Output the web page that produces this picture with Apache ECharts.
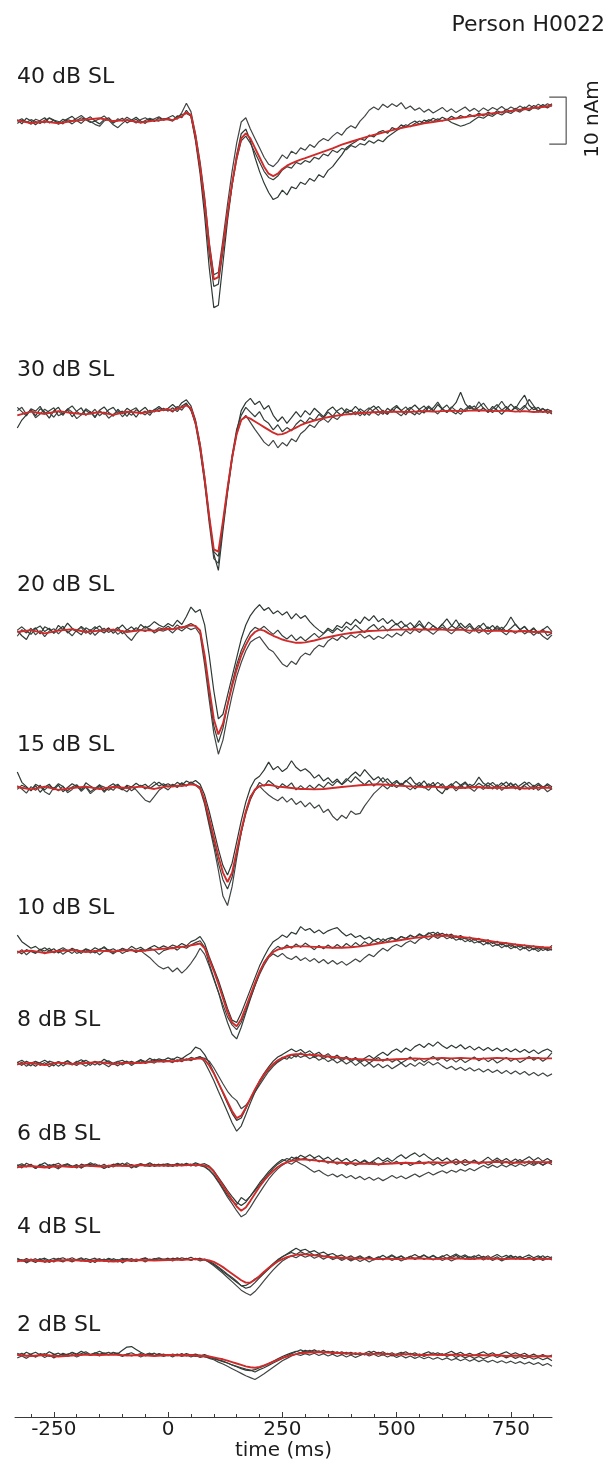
<!DOCTYPE html>
<html><head><meta charset="utf-8">
<script src="https://cdn.jsdelivr.net/npm/echarts@6/dist/echarts.min.js"></script>
<style>html,body{margin:0;padding:0;background:#fff}#c{width:608px;height:1466px}</style>
</head><body><div id="c"></div>
<script>
// ---------- DATA (time in ms, source strength in nAm relative to each trace's baseline) ----------
const chartTitle = 'Person H0022';
const xAxisName = 'time (ms)';
const levelLabels = ['40 dB SL','30 dB SL','20 dB SL','15 dB SL','10 dB SL','8 dB SL','6 dB SL','4 dB SL','2 dB SL'];
const xTickValues = [-250, 0, 250, 500, 750];
const xMinorTickValues = [-300,-250,-200,-150,-100,-50,0,50,100,150,200,250,300,350,400,450,500,550,600,650,700,750,800];
const scaleBarLabel = '10 nAm';
const scaleBarTimes = [834, 871];
const scaleBarRange = [-4.7, 5.3];

// sample times of the single runs
const timesRun = [
-330,-320,-310,-300,-290,-280,-270,-260,-250,-240,-230,-220,-210,-200,-190,-180,-170,-160,-150,-140,-130,-120,-110,-100,-90,-80,-70,-60,-50,-40,-30,-20,-10,
0,10,20,30,40,50,60,70,80,90,100,110,120,130,140,150,160,170,180,190,200,210,220,230,240,250,260,270,280,290,300,
310,320,330,340,350,360,370,380,390,400,410,420,430,440,450,460,470,480,490,500,510,520,530,540,550,560,570,580,590,600,610,620,630,640,650,660,670,680,690,700,710,720,730,740,750,760,770,780,790,800,810,820,830,840];
// sample times of the averaged (red) trace
const timesAvg = [
-330,-300,-270,-240,-210,-180,-150,-120,-90,-60,-30,0,
10,20,30,40,50,60,70,80,90,100,110,120,130,140,150,160,170,180,190,200,210,220,230,240,250,260,270,280,290,300,
320,340,360,380,400,420,440,460,480,500,520,540,560,580,600,620,640,660,680,700,720,740,760,780,800,820,840];

// ---- 40 dB SL ----
const avg40 = [0.3,-0.2,0.1,-0.3,0.2,0.5,0.8,0.2,0.4,-0.1,0.3,0.6,
0.4,0.8,1.2,2.0,1.5,-3,-9.5,-17,-26.5,-33.5,-33,-26.5,-19.5,-13,-7.5,-3.5,-2.4,-3.5,-5.5,-7.5,-9.5,-11,-11.5,-11,-10,-9.3,-8.8,-8.4,-8,-7.7,
-7,-6.3,-5.6,-4.8,-4.2,-3.6,-3,-2.5,-2,-1.5,-1.1,-0.7,-0.3,0,0.3,0.6,0.9,1.2,1.5,1.7,2,2.2,2.5,2.7,3,3.2,3.5];
const run40a = [0.5,-0.4,0.8,0.2,-0.6,0.3,0.9,-0.2,0.4,-0.5,0.1,0.7,1.2,0.3,-0.3,0.6,1.1,0.2,-0.4,0.5,0.9,-0.1,0.3,0.8,-0.2,0.4,1,0.2,-0.3,0.6,0.1,0.9,0.4,
0.8,0.3,1.3,0.9,2.5,1.2,-4,-11,-20,-31,-39.5,-39,-30,-21,-13.5,-7,-2.5,-1.5,-4,-7.5,-10.5,-13,-15,-16.5,-16,-14.5,-15.5,-13.8,-14.2,-12.8,-13.3,
-12,-12.6,-11.2,-11.8,-10.3,-9.5,-8.2,-7,-5.5,-4.8,-4.2,-3.5,-3.9,-2.8,-3.2,-2.2,-1.8,-2.4,-1.2,-1.6,-0.6,-1.1,-0.3,0.2,-0.5,0.4,0.1,0.8,0.3,1,0.5,1.2,0.7,1.4,0.9,1.6,1.1,1.9,1.3,2.1,1.6,2.4,1.9,2.7,2.2,2.9,2.4,3.2,2.7,3.5,3,3.7,3.2,3.9];
const run40b = [-0.3,0.4,0.1,-0.5,0.6,0.2,-0.2,0.9,0.4,0.1,-0.4,0.5,0.2,0.8,1.4,0.6,0.1,-0.5,-0.9,0.2,0.6,-0.3,0.7,0.2,1,0.4,-0.2,0.5,0.9,0.3,0.7,1.1,0.5,
0.9,1.4,0.6,2,4,2.2,-2.5,-8.5,-16,-25.5,-32.5,-32,-25,-17.5,-10.5,-4.5,0,0.9,-1.5,-3.5,-5.5,-7.5,-9,-9.5,-8.5,-7,-7.8,-6.2,-6.8,-5.5,-6,
-4.8,-5.4,-4.2,-3.5,-4,-3,-2.2,-2.8,-1.5,-0.8,-1.3,0.2,1.2,2.5,3.2,2.6,3.8,3.1,3.9,3.3,4.1,2.8,3.4,2.5,3,2.1,2.7,1.9,2.5,3.1,2.2,2.8,2,2.6,3.2,2.3,2.9,2.2,3,2.4,3.1,2.6,3.3,2.5,3.2,2.7,3.4,2.8,3.6,3,3.8,3.2,3.9,3.4];
const run40c = [0.2,0.7,-0.1,0.5,0.1,-0.3,0.4,0.8,0.3,-0.2,0.6,0.2,-0.4,0.3,0.9,0.5,-0.1,0.2,0.7,1.3,0.4,-0.6,-1.2,-0.3,0.5,0.1,0.6,-0.2,0.3,0.8,0.4,0.2,0.7,
0.5,0.2,1.1,1.6,1.8,1.3,-3.5,-10,-18,-28,-35,-34.5,-27.5,-20,-13.5,-8,-4,-3,-4.5,-6.5,-8.5,-10.5,-11.8,-12.3,-11.5,-10.2,-9.5,-9.8,-8.6,-9,-8.2,
-8.6,-7.5,-7.9,-6.8,-7.2,-6,-6.5,-5.6,-5.9,-5,-5.4,-4.6,-4.9,-4,-4.5,-3.8,-4.2,-3.2,-2.5,-1.8,-1.2,-0.6,-1,-0.3,0.2,-0.2,0.5,0.1,0.7,0.2,0.6,-0.1,-0.5,-0.9,-0.6,-0.2,0.5,1.1,0.8,1.5,1.2,1.9,1.5,2.2,1.8,2.5,2.1,2.8,2.4,3.1,2.7,3.4,3,3.6];

// ---- 30 dB SL ----
const avg30 = [-0.5,0.3,-0.2,0.4,0,-0.3,0.2,-0.4,0.3,0,0.4,0.8,
0.5,0.9,1.2,1.6,1,-2,-7,-14,-22,-29,-29.5,-23,-16,-9.5,-4.5,-1.5,-0.8,-1.2,-1.8,-2.4,-3,-3.6,-4.2,-4.6,-4.5,-4.1,-3.6,-3.1,-2.6,-2.2,
-1.6,-1.1,-0.7,-0.4,-0.2,0,0.1,0.2,0.2,0.3,0.2,0.3,0.4,0.3,0.4,0.5,0.4,0.5,0.6,0.5,0.4,0.5,0.3,0.4,0.2,0.3,0.2];
const run30a = [-3.2,-1.5,-0.4,0.8,-0.6,0.9,0.2,-1.1,0.5,1.2,-0.3,0.7,-0.8,0.4,1.1,-0.5,0.3,-1,0.6,1.3,0.1,-0.7,0.8,-0.2,1,0.3,-0.9,0.5,1.2,0,0.7,1.4,0.6,
1,1.8,0.9,2.2,2.8,1.5,-1.5,-6.5,-13.5,-22,-30,-33.5,-25,-17,-10,-4,0.5,2.2,3.1,1.8,2.5,0.8,1.6,-0.5,-1.8,-0.8,-2.2,-1,0.3,-0.9,0.5,
-0.4,1,0.1,-0.8,0.6,1.3,0.2,-0.6,0.9,0.3,1.4,0.4,-0.5,0.8,1.5,0.5,-0.3,1,0.2,1.3,0.6,-0.4,0.9,1.7,0.7,0,1.2,0.4,1.8,0.8,0.1,1.1,2.2,4.4,2,0.9,1.5,0.3,1.1,0.2,1.4,0.6,-0.3,0.8,1.9,0.9,2.5,3.8,1.6,0.7,1.2,0.1,0.8,0.3];
const run30b = [0.5,1.2,-0.3,0.6,-1,-0.2,0.8,0.1,-0.9,0.4,-0.5,0.9,0.2,-1.2,-0.4,0.6,-0.2,0.8,-0.6,0.2,-1.1,-0.3,0.5,-0.8,0.2,-0.5,0.7,0.1,-0.4,0.6,0.2,1,0.5,
0.8,0.2,1.4,0.6,1.9,0.8,-2.5,-8,-15,-23.5,-31,-32,-24,-16.5,-9.5,-4.5,-1.5,-0.5,-2,-3.5,-4.8,-6.2,-7,-5.8,-7.4,-6.3,-7,-5.5,-6.1,-4.4,-3.6,
-2.5,-3.1,-1.8,-1.2,-2,-0.8,-1.4,-0.3,0.5,-0.4,0.3,-0.6,0.4,1.1,0.2,-0.5,0.6,-0.2,0.8,0.1,-0.6,0.5,1.2,0.3,-0.3,0.7,1.5,0.6,-0.2,0.9,0.2,1.3,0.5,-0.3,0.8,1.6,0.7,2.4,1,0.1,0.9,1.8,0.6,1.4,0.4,1.1,0.2,1.2,2.9,1.5,0.4,1,-0.1,0.5];
const run30c = [1.2,0.3,-0.6,0.9,0.4,1.4,-0.2,0.5,1.1,-0.6,-0.1,0.8,1.5,0.3,-0.4,0.9,0.2,-0.8,0.5,-0.3,0.7,1.2,-0.1,0.4,-0.7,0.6,1.1,-0.2,0.4,-0.5,0.8,0.3,1,
0.4,1.1,0.3,1.5,2.1,0.5,-2,-7.5,-14.5,-22.5,-29.5,-30.5,-23.5,-16,-9,-3.5,-0.5,1.2,0.2,-0.8,0.3,-1.5,-2.2,-3.6,-2.5,-4,-3.1,-3.8,-2.4,-1.5,-2.2,
-1,-1.6,-0.3,-1.1,0.2,-0.7,0.5,1.1,0,0.6,-0.4,0.9,0.2,-0.5,0.7,1.4,0.3,-0.3,0.9,1.6,0.5,1.3,0.2,-0.4,0.8,1.5,0.3,1.1,2.3,0.9,1.7,0.4,-0.2,1,0.3,1.4,0.6,1.3,2.1,0.8,0.1,1.2,2.5,1.1,0.3,1.4,0.7,1.6,0.5,1.3,0.2,0.9,0.4,-0.2];

// ---- 20 dB SL ----
const avg20 = [0,0.4,-0.3,0.3,0.6,0,0.3,0.5,0,0.4,0.3,0.7,
0.6,0.8,1,1.2,1.4,1.3,0.3,-5,-12,-18.5,-21.8,-19.5,-15.5,-11.5,-8,-5,-2.8,-1,0,0.5,0.3,-0.3,-0.8,-1.2,-1.6,-1.9,-2.1,-2.3,-2.3,-2.2,
-1.8,-1.3,-0.9,-0.5,-0.2,0,0.2,0.3,0.4,0.5,0.5,0.6,0.5,0.6,0.5,0.4,0.5,0.3,0.4,0.2,0.3,0.2,0.1,0.2,0,0.1,-0.1];
const run20a = [0.3,-0.8,-1.6,0.2,0.9,-0.4,1.1,0.6,-0.2,1.4,0.5,1.9,0.8,0.1,1.2,0.4,-0.5,0.7,1.3,0.2,0.9,-0.3,0.6,1.5,0.4,1.1,0.2,1.6,0.8,1.3,2.2,1.5,1,
1.8,1.2,2.5,1.6,3.3,5.3,4.2,4.8,1.5,-5,-12.5,-18.5,-17.5,-13.5,-9.5,-5.5,-1.5,1.5,3.5,4.8,5.8,4.6,5.2,3.9,4.5,3.6,4.3,2.8,3.9,2.9,3.5,
2.2,1.2,0.4,-0.3,0.8,0.2,1.4,0.9,2.1,1.5,2.7,1.8,3.2,2.4,3.5,2.2,2.9,1.8,2.6,1.5,2.3,1.2,2,0.9,1.7,0.8,2.1,1.3,0.6,1.6,2.8,1.4,0.7,1.9,0.9,1.8,0.5,1.4,0.3,1.1,0.2,1.3,0.4,1.5,3.2,1.6,0.5,1.2,0.1,0.9,-0.3,0.6,-0.8,-0.2];
const run20b = [-0.9,0.5,-0.2,0.8,-0.6,0.3,-1,0.2,0.7,-0.4,0.6,0.1,-0.8,0.4,1,-0.3,0.5,-0.7,0.2,0.8,-0.1,0.6,-0.5,0.3,-0.9,-1.8,-0.4,0.5,0.1,0.7,-0.2,0.4,0.2,
0.6,-0.2,0.8,0.2,1,0.5,0.9,-0.5,-7,-14.5,-21.5,-26,-23,-18,-13.5,-9.5,-6.5,-4,-2.2,-1.5,-1,-2.3,-3.6,-4.2,-5.5,-6.8,-7.4,-6.2,-6.9,-5.3,-4.5,
-4.9,-3.6,-2.8,-3.2,-1.9,-1.2,-1.8,-0.8,-1.5,-0.6,-1.2,-0.4,-1.3,-0.7,-1.6,-0.9,-1.4,-0.5,-1.1,-0.2,-0.8,0.3,-0.4,0.6,-0.1,0.8,0.2,-0.5,0.4,1,0.3,-0.4,0.5,1.1,0.2,-0.3,0.6,-0.2,0.4,-0.5,0.3,0.9,0.1,-0.6,0.4,-0.3,0.5,-0.4,0.2,-0.7,0.1,-0.9,-1.6,-0.6];
const run20c = [0.4,1.1,0.2,-0.5,0.7,1.3,0.1,0.8,-0.3,0.5,1.2,-0.2,0.6,0.1,-0.6,0.9,0.3,1.1,0.4,-0.2,0.7,0.2,1,-0.4,0.5,0.1,0.9,0.3,1.2,0.5,0.2,0.9,0.6,
1.2,0.5,1.5,0.8,1.3,1.8,1.2,0.4,-5.5,-13,-20,-23.5,-20.5,-15.5,-11,-7,-4,-1.8,0,1,0.5,1.2,0.3,-0.5,0.4,-0.8,-1.5,-0.6,-1.8,-1,-1.9,
-1.1,-0.3,-1.2,-0.4,0.5,-0.2,0.8,0.1,1.2,0.4,1.5,0.6,-0.1,0.9,1.6,0.5,1.3,0.2,1.1,1.8,0.7,1.5,0.4,1.2,2.4,1,0.3,1.4,0.6,1.7,0.5,1.2,2.6,1.1,0.4,1.3,0.2,0.9,1.9,0.6,1.4,0.3,1,0.1,0.8,1.7,0.5,1.1,0,0.7,-0.2,0.5,1.2,0.1];

// ---- 15 dB SL ----
const avg15 = [0.2,-0.3,0.3,-0.4,0,0.3,-0.2,0.2,0,0.3,-0.2,0.4,
0.3,0.5,0.4,0.6,0.8,0.6,0,-2.5,-6.5,-10.5,-14.5,-18,-20,-18,-13.5,-9,-5,-2,-0.3,0.4,0.6,0.7,0.5,0.3,0.2,0.1,0,-0.1,-0.2,-0.2,
-0.3,-0.2,0,0.2,0.4,0.6,0.7,0.8,0.7,0.5,0.4,0.3,0.2,0.3,0.1,0.2,0,0.1,0.2,0,0.1,0,0.1,-0.1,0,0.1,0];
const run15a = [3.4,1.2,0.3,-0.6,0.5,-0.9,0.2,0.8,-0.4,0.6,-0.8,0.1,0.9,0.3,-0.5,1.1,0.4,-0.2,0.7,-0.6,0.3,0.9,0.1,-0.4,0.6,0.2,1,0.3,0.8,-0.1,0.6,1.2,0.5,
0.9,0.3,1.2,0.6,1.5,1,1.6,0.8,-1.5,-5,-9,-13,-16.5,-18.5,-16,-11.5,-7,-3,0,1.8,2.5,3.8,5.5,3.9,4.6,3.5,4.2,5.8,4.4,3.6,4.1,
3.3,2.1,2.8,1.5,2.2,1.1,1.9,0.7,1.5,2.6,3.4,2.5,3.9,2.8,1.7,2.4,1.2,2,0.9,1.6,0.6,1.4,2.3,1,0.4,1.5,0.3,1.2,-0.5,-1.2,0.2,0.9,-0.1,0.6,1.3,0.2,0.8,2.3,1,0.4,1.2,0.3,1.1,0.2,1,-0.2,0.6,1.3,0.4,-0.3,0.7,0,0.9,0.2];
const run15b = [0.5,-0.2,-1.1,0.3,-0.5,0.6,-0.8,-1.4,0.1,-0.6,0.4,-1,-0.3,0.5,-0.7,0.2,-1.2,-0.4,0.3,-0.9,0.1,-0.5,0.6,-0.2,-0.8,0.3,-0.4,-1.5,-2.6,-3,-1.8,-0.5,0.2,
-0.4,0.6,0.1,1,0.4,1.2,0.6,-0.3,-3.5,-8,-12.5,-17.5,-23,-25,-21,-15,-9.5,-5,-1.8,-0.5,0.4,-0.6,-1.5,-2.2,-2.7,-1.9,-3,-2.2,-3.5,-2.8,-4,
-3.1,-4.3,-3.6,-5.2,-4.5,-6,-6.9,-5.8,-6.5,-4.9,-5.6,-5.4,-3.8,-2.5,-1.2,-0.3,0.6,-0.2,0.8,0.1,1,0.3,-0.4,0.5,1.2,0.2,-0.5,0.6,0.1,0.9,-0.2,0.5,-0.6,0.3,1,0,-0.7,0.4,-0.3,0.6,-0.2,0.7,-0.5,0.3,1.1,0.2,-0.4,0.5,-0.3,0.6,-0.5,0.2,-0.8,-0.1];
const run15c = [-0.3,0.6,0.1,-0.5,0.8,0.2,-0.4,0.5,-0.1,0.9,0.3,-0.6,0.2,0.7,-0.3,0.4,-0.8,-0.1,0.6,0.2,-0.5,0.3,0.8,-0.2,0.4,-0.6,0.1,0.6,-0.2,0.5,1.3,0.4,0.9,
0.2,0.8,0.3,1.1,0.5,1.3,0.7,0.2,-3,-7.5,-11.5,-16,-19.5,-21.5,-19,-14,-9.5,-5.5,-2.5,-0.5,1.2,0.4,1.6,0.8,-0.2,0.9,0.2,1.1,-0.4,0.5,-0.3,
0.6,-0.2,0.8,0.1,1.2,0.5,1.5,0.8,2,1.2,2.4,1.5,0.7,1.6,0.4,1.2,2.2,1.1,0.3,1.3,0.5,1.6,0.8,-0.2,0.7,0,0.9,0.3,1.2,0.4,-0.4,0.5,1.4,0.6,-0.1,0.8,0.2,1,0.3,1.1,0.5,-0.3,0.6,1.3,0.2,0.9,-0.1,0.7,1.2,0.3,1,0.2,0.6,-0.3];

// ---- 10 dB SL ----
const avg10 = [0,0.3,-0.2,0.2,0.4,0,0.3,0.1,0.4,0.2,0.5,0.8,
0.8,1,1.1,1.2,1.4,1.6,1.8,0.8,-1.5,-4,-6.8,-9.8,-12.8,-15,-15.8,-14.3,-11.8,-9.2,-6.6,-4.2,-2.3,-0.9,0,0.5,0.8,1,1.1,1.2,1.2,1.2,
1.1,1,0.9,0.9,1,1.2,1.5,1.8,2.1,2.4,2.7,3,3.2,3.4,3.5,3.4,3.2,3,2.7,2.4,2.1,1.9,1.6,1.4,1.2,1,0.9];
const run10a = [3.6,2.2,1.5,0.8,1.2,0.4,0.9,0.2,0.7,-0.2,0.5,0.1,0.8,0.3,-0.3,0.6,0.2,0.9,0.4,1.1,0.3,0.7,0.1,0.8,0.4,1.2,0.6,1,0.3,0.9,1.4,0.8,1.3,
0.9,1.5,1.1,1.8,1.3,2.2,2.6,3.3,1.8,-1,-3.5,-6,-9,-12,-14.5,-15,-13,-10.5,-8,-5.5,-3,-1,0.8,2.2,2.8,3.6,3.1,4.2,3.8,5.4,4.6,
5,4.1,4.7,3.9,4.5,4.9,5.2,4.2,3.4,3.9,3.1,3.5,2.7,3.2,2.4,2.9,2.2,2.8,3.1,2.6,3.3,2.9,3.5,3.1,3.7,3.3,3.9,4.2,3.6,4,3.4,3.8,3.1,3.5,2.8,3.2,2.5,2.9,2.2,2.6,1.8,2.3,1.5,2,1.2,1.7,1,1.5,0.8,1.3,0.6,1.1,0.5,1.4];
const run10b = [-0.3,0.5,-0.6,0.2,-0.2,0.6,-0.4,0.3,-0.1,0.4,-0.5,0.2,0.6,-0.3,0.1,0.5,-0.2,0.3,-0.6,0.2,0.5,-0.1,0.4,-0.3,0.2,0.6,0,0.3,-0.5,-1.2,-2.2,-3.1,-3.6,
-3.2,-4.2,-3.4,-4.5,-3.6,-2.4,-1,0.8,-0.5,-3,-5.8,-8.5,-11.2,-13.8,-15.5,-16.5,-15,-12.5,-9.8,-7.2,-4.8,-2.8,-1.2,-0.4,-1,-0.3,-1.2,-1.6,-0.9,-1.8,-1.2,
-2,-1.4,-2.3,-1.6,-2.5,-1.8,-2.6,-2,-2.8,-2.2,-1.5,-2.1,-1.2,-0.5,-1,0,0.8,0.2,1.1,1.6,1.1,1.9,2.4,1.8,2.7,3.2,2.6,3.4,2.9,3.5,2.8,3.3,2.5,2.9,2.2,2.7,1.9,2.3,1.5,2.1,1.2,1.7,0.9,1.5,0.7,1.2,0.4,1,0.2,0.8,0.1,0.9,0.3,0.6];
const run10c = [0.2,-0.4,0.5,0.1,-0.3,0.6,0.2,0.8,-0.2,0.4,0.9,0.3,-0.3,0.5,0.1,0.7,0.3,-0.2,0.6,0.9,0.2,-0.4,0.3,0.7,0.1,0.5,-0.1,0.6,0.2,0.8,0.4,-0.5,0.3,
0.6,1,0.4,1.2,0.8,1.5,2,2.4,1,-2.5,-5.5,-8.5,-12,-15,-17.5,-18.5,-16,-13,-10,-7.2,-4.5,-2.2,-0.8,0.4,1.2,0.6,1.5,0.8,1.7,1,1.9,
1.2,0.5,1.4,0.7,1.5,0.8,1.6,0.9,1.8,1.1,2,1.3,2.2,1.6,2.5,1.9,2.8,2.2,3,2.5,3.3,2.8,3.6,3.1,3.9,3.3,4.1,3.5,4.2,3.3,3.8,2.9,3.4,2.6,3,2.2,2.8,2,2.5,1.7,2.2,1.4,1.9,1.1,1.6,0.9,1.4,0.7,1.2,0.5,1,0.3,0.8,0.4];

// ---- 8 dB SL ----
const avg8 = [0,0.2,-0.2,0.3,0,0.2,0.4,0,0.3,0.2,0.5,0.6,
0.6,0.7,0.8,0.9,1,1.1,1.2,0.9,-0.3,-2,-4,-6,-8,-10,-11.5,-11,-9.3,-7.3,-5.4,-3.7,-2.2,-1,0,0.8,1.3,1.7,2,2.1,2.1,2,
1.9,1.7,1.5,1.3,1.1,1,0.9,0.8,0.9,1,1.1,1.2,1.1,1.2,1.3,1.2,1.3,1.2,1.1,1.2,1.3,1.2,1.1,1.2,1.3,1.2,1.2];
const run8a = [0.4,-0.3,0.6,0.1,-0.5,0.3,0.8,0.2,-0.4,0.5,0.1,0.7,-0.2,0.4,0.9,0.3,-0.3,0.6,0.2,1,0.4,-0.1,0.5,0.8,0.2,0.6,0.1,0.9,0.5,1.2,0.7,1.1,0.8,
1.3,0.9,1.5,1.1,1.8,2.4,3.6,3.2,2,0.2,-1.8,-4,-6.2,-8.4,-10.5,-12,-11.5,-9.5,-7.4,-5.5,-3.6,-2,-0.6,0.6,1.5,2,2.6,3.2,2.6,3.1,2.3,
2.8,2,2.5,1.6,2.2,1.3,1.9,1,1.6,0.8,1.4,0.6,1.2,1.8,1.1,1.9,2.5,1.8,2.7,3.2,2.5,3.4,2.8,3.7,4.2,3.5,4.4,3.8,4.7,3.9,3.3,4,3.4,4.1,3.2,3.8,3,3.6,2.9,3.5,2.8,3.4,2.7,3.3,2.6,3.2,2.5,3.1,2.4,3,2.2,2.8,3.2,2.6];
const run8b = [-0.2,0.4,-0.5,0.2,0.6,-0.3,0.3,-0.6,0.1,0.5,-0.4,0.2,-0.1,0.6,0.1,-0.5,0.3,-0.2,0.5,0,-0.6,0.2,0.6,-0.2,0.4,-0.3,0.3,0.7,0.1,0.5,0.2,0.8,0.4,
0.7,0.3,0.9,0.5,1.1,0.7,1.3,1.5,1.2,0.6,-0.8,-2.5,-4.2,-5.8,-7,-7.8,-9.5,-8.8,-7.5,-6,-4.5,-3,-1.6,-0.5,0.4,1,1.6,1.2,2,1.4,1.8,
1.1,1.6,0.8,1.3,0.5,1,0.2,0.8,0,0.6,-0.3,0.4,-0.5,0.2,-0.7,0,-0.8,-0.2,-1,-0.4,0.2,-0.6,0.1,-0.5,0.3,-0.3,0.5,-0.2,0.3,-0.4,-1,-0.5,-1.2,-0.7,-1.4,-0.8,-1.5,-1,-1.7,-1.1,-1.8,-1.3,-2,-1.4,-2.1,-1.5,-2.2,-1.6,-2.4,-1.8,-2.5,-1.9,-2.6,-2.1];
const run8c = [0.3,0.8,0.1,-0.4,0.5,0.2,-0.2,0.6,0.3,-0.5,0.2,0.7,0.1,-0.3,0.4,0.8,0.2,0.5,-0.2,0.3,0.7,0.1,-0.4,0.3,0.6,0,0.4,0.9,0.3,0.6,1,0.5,0.9,
0.6,1.1,0.5,1.2,0.8,1.4,1.1,1.6,0.4,-1.5,-3.5,-5.8,-8,-10.2,-12.5,-14.3,-13.2,-10.8,-8.3,-6,-4,-2.5,-1.2,-0.2,0.6,1.4,1,2,1.5,2.4,1.7,
2.2,1.4,1.9,1.1,1.7,0.9,1.5,0.7,1.3,0.5,1.1,0.3,0.9,0.2,0.8,1.4,0.6,1.2,0.4,1,0.2,0.8,1.5,0.6,1.2,0.4,1,1.6,0.8,1.4,0.6,1.2,0.4,1.1,0.3,0.9,1.5,0.7,1.3,0.5,1.1,0.2,0.8,1.4,0.6,1.2,0.3,0.9,1.6,0.8,1.4,0.6,1.3,2.4];

// ---- 6 dB SL ----
const avg6 = [0,0.2,-0.1,0.2,0,0.3,0.1,0.3,0.2,0.4,0.3,0.3,
0.3,0.4,0.3,0.4,0.5,0.4,0.4,0.3,0,-1,-2.5,-4,-5.5,-7,-8.4,-9.3,-8.6,-7.2,-5.7,-4.2,-2.9,-1.8,-0.8,0,0.6,1,1.3,1.5,1.6,1.6,
1.4,1.2,1,0.9,0.8,0.7,0.7,0.6,0.7,0.8,0.9,0.8,0.9,1,0.9,1,1.1,1,0.9,1,1.1,1,0.9,1,1.1,1,1];
const run6a = [0.5,-0.2,0.8,0.3,-0.3,0.4,0.9,0.2,0.6,-0.1,0.4,0.7,0.1,0.5,-0.2,0.3,0.6,0.1,0.4,-0.3,0.2,0.6,0.3,0.8,0.2,0.5,0.1,0.7,0.4,0.9,0.3,0.6,0.2,
0.5,0.1,0.6,0.3,0.8,0.4,0.9,0.5,0.7,0.2,-0.8,-2.2,-3.6,-5,-6.3,-7.5,-8.2,-7.5,-6.2,-4.8,-3.4,-2.2,-1,0,0.9,1.6,1.2,2.1,1.7,2.5,2,
2.6,1.9,2.4,1.6,2.1,1.3,1.9,1.2,1.8,1,1.6,0.9,1.5,0.8,1.4,2,1.3,1.9,1.2,2,2.6,1.8,2.5,3,2.2,2.8,2,1.4,2,1.3,1.9,1.1,1.7,1,1.6,0.9,1.5,0.8,1.4,2.1,1.3,1.9,1.2,1.8,1.1,1.7,1,1.6,2.2,1.4,2,1.2,1.8,1.1];
const run6b = [-0.2,0.4,0,0.6,-0.3,0.3,-0.1,0.5,0.1,-0.4,0.3,0.6,0,0.4,-0.2,0.5,0.1,0.7,0.2,-0.3,0.4,0,0.6,0.2,0.9,0.3,-0.1,0.5,0.2,0.7,0.1,0.4,0.6,
0.1,0.5,0.2,0.7,0.3,0.6,0.2,0.5,0.1,-0.6,-1.8,-3.2,-4.8,-6.4,-7.8,-9.3,-10.6,-10,-8.6,-7,-5.5,-4,-2.6,-1.4,-0.4,0.4,1,0.6,1.3,0.7,0.2,
-0.5,-1.1,-0.7,-1.4,-1.9,-1.5,-2.1,-1.6,-2.3,-1.8,-2.5,-2,-2.7,-2.2,-2.8,-2.3,-2.9,-2.4,-1.8,-2.4,-1.9,-2.5,-2,-1.5,-2.1,-1.6,-1.1,-1.7,-1.2,-0.8,-1.3,-0.7,-1.1,-0.5,-0.9,-0.3,-0.8,-0.2,0.3,-0.2,0.4,-0.1,0.5,0,0.6,0.1,0.7,0.2,0.8,0.3,0.9,0.4,1,0.5];
const run6c = [0.3,0.7,0.1,0.5,-0.2,0.6,0.2,-0.3,0.4,0.8,0.1,0.5,0.2,-0.2,0.6,0.3,0.9,0.4,0.1,0.6,-0.1,0.4,0.8,0.3,0.5,-0.2,0.4,0.7,0.3,0.1,0.6,0.2,0.5,
0.7,0.3,0.8,0.4,0.6,0.2,0.7,0.3,0,-0.7,-1.6,-3,-4.5,-6,-7.2,-8,-6.5,-7.2,-6.2,-5,-3.8,-2.6,-1.4,-0.3,0.6,1.2,1.8,1.4,2.1,1.6,1.9,
1.3,1.8,1.1,1.5,0.8,1.3,0.6,1.1,0.4,0.9,0.3,0.8,1.3,0.6,1.1,0.4,0.9,1.4,0.7,1.2,0.5,1,0.3,0.8,1.3,0.6,1.1,0.4,0.9,0.2,0.7,1.2,0.5,1,0.3,0.8,1.4,0.6,1.1,0.4,0.9,1.5,0.7,1.2,0.5,1,1.6,0.8,1.3,0.6,1.1,0.4,0.9,1.4];

// ---- 4 dB SL ----
const avg4 = [0,0.2,-0.1,0.1,0.2,0,0.1,-0.1,0.1,0.2,0.1,0.2,
0.2,0.3,0.2,0.3,0.3,0.4,0.3,0.3,0.1,-0.2,-0.7,-1.3,-2,-2.7,-3.4,-4.1,-4.6,-4.6,-4,-3.2,-2.3,-1.5,-0.8,-0.1,0.4,0.8,1.1,1.3,1.4,1.4,
1.2,1,0.8,0.7,0.6,0.5,0.5,0.4,0.5,0.4,0.5,0.6,0.5,0.4,0.5,0.6,0.5,0.4,0.5,0.6,0.5,0.4,0.5,0.4,0.5,0.4,0.5];
const run4a = [0.4,0,0.5,0.1,-0.3,0.3,0.6,0.1,-0.2,0.4,0.7,0.2,-0.1,0.3,0,0.5,0.2,-0.3,0.4,0.1,0.6,0.2,-0.2,0.3,0.5,0.1,-0.1,0.4,0.7,0.2,0.5,0.1,0.4,
0.2,0.6,0.3,0.7,0.4,0.8,0.3,0.6,0.2,-0.2,-0.8,-1.5,-2.3,-3,-3.8,-4.5,-5.2,-5.8,-5.5,-4.6,-3.6,-2.6,-1.7,-0.8,0.1,0.9,1.5,2.1,2.7,2.2,2.5,
1.9,2.2,1.6,1.9,1.3,1.6,1,1.3,0.7,1.1,0.5,0.9,0.3,0.8,0.2,0.7,1.2,0.6,1.1,0.5,1,0.4,0.9,1.4,0.8,1.3,0.7,1.2,0.6,1.1,0.5,1,1.5,0.9,1.3,0.7,1.1,0.5,1,0.4,0.9,1.4,0.8,1.2,0.6,1,0.4,0.9,1.3,0.7,1.1,0.5,1,0.6];
const run4b = [-0.2,0.3,-0.4,0.1,0.5,-0.1,0.3,-0.3,0.2,0.6,0,0.4,-0.2,0.3,0.7,0.1,-0.3,0.2,0.5,-0.1,0.4,0,0.3,-0.4,0.2,0.5,0,0.3,-0.2,0.4,0.1,0.5,0.2,
0.4,0,0.5,0.1,0.6,0.2,0.5,0,0.3,-0.3,-1,-1.8,-2.6,-3.5,-4.4,-5.3,-6.2,-6.8,-7.3,-6.5,-5.4,-4.2,-3,-1.9,-0.9,0,0.6,1.1,0.7,1.3,0.8,
1.2,0.6,1,0.4,0.9,0.3,0.7,0.1,0.6,0,0.5,-0.1,0.4,-0.2,0.3,0.8,0.2,0.7,0.1,0.6,0,0.5,1,0.4,0.9,0.3,0.8,0.2,0.7,0.1,0.6,0,0.5,1,0.4,0.9,0.3,0.8,0.2,0.7,0.1,0.6,0,0.5,1.1,0.4,0.9,0.3,0.8,0.2,0.7,0.1,0.6,0.2];
const run4c = [0.6,0.1,-0.2,0.4,0,0.5,-0.3,0.2,0.6,0.1,-0.2,0.3,0.7,0.2,0.5,-0.1,0.3,0.6,0,0.4,-0.2,0.5,0.1,0.6,0.2,-0.1,0.4,0.2,0.6,0.1,0.4,0.7,0.3,
0.6,0.2,0.7,0.3,0.5,0.1,0.6,0.2,0.4,0,-0.6,-1.3,-2,-2.8,-3.5,-4.3,-5.3,-5.2,-4.6,-3.8,-3.4,-2.5,-1.4,-0.5,0.3,0.9,1.4,1.8,1.4,2,1.5,
1.8,1.2,1.5,0.9,1.2,0.6,1,0.4,0.8,0.2,0.7,1.1,0.5,1,0.4,0.9,0.3,0.8,1.3,0.7,1.1,0.5,1,0.3,0.8,1.2,0.6,1.1,0.4,0.9,1.4,0.7,1.2,0.5,1,0.3,0.8,1.3,0.6,1.1,0.4,0.9,0.2,0.7,1.2,0.5,1,0.3,0.8,0.1,0.6,1.1,0.4,0.9];

// ---- 2 dB SL ----
const avg2 = [0.2,0,0.2,-0.1,0.1,0.3,0.2,0.3,0.1,0.2,0,0.2,
0.2,0.1,0.2,0.1,0.2,0.1,0,0,-0.1,-0.3,-0.5,-0.7,-1,-1.3,-1.6,-1.9,-2.2,-2.4,-2.5,-2.3,-2,-1.6,-1.2,-0.8,-0.4,-0.1,0.2,0.4,0.6,0.7,
0.8,0.8,0.7,0.6,0.5,0.5,0.4,0.5,0.4,0.3,0.4,0.3,0.2,0.3,0.2,0.3,0.2,0.1,0.2,0.1,0.2,0,0.1,0,-0.1,0,-0.1];
const run2a = [0.6,0.1,0.8,0.3,-0.2,0.5,0.2,0.9,0.4,0,0.6,0.2,0.8,0.4,1,0.5,0.2,0.7,0.4,0.6,0.3,0.8,0.5,1.2,1.9,2,1.4,0.8,0.3,0.6,0.1,0.5,0.2,
0.3,0,0.4,0.1,0.5,0.2,0.4,0.1,0.3,-0.1,-0.4,-0.8,-1.1,-1.5,-1.9,-2.3,-2.7,-3,-3.1,-2.9,-2.5,-2.1,-1.6,-1.1,-0.6,-0.1,0.3,0.7,1,0.7,1.2,
0.9,1.3,0.8,1.2,0.7,1,0.5,0.9,0.4,0.8,0.3,0.7,0.2,0.6,1,0.5,0.9,0.3,0.7,0.1,0.5,0.9,0.3,0.7,0.1,0.5,0.9,0.3,0.7,0.2,0.6,1,0.4,0.8,0.2,0.6,0.1,0.5,0.9,0.3,0.7,0.1,0.5,0.9,0.3,0.7,0.2,0.6,0,0.4,-0.1,0.3,-0.2,0.2];
const run2b = [-0.4,0,-0.5,0.1,-0.2,0.3,-0.3,0.2,-0.4,0.1,0.4,-0.1,0.3,-0.2,0.2,0.5,0.1,0.4,0,0.6,0.2,0.7,0.3,-0.1,0.4,0,0.3,-0.2,0.2,0.5,0,0.3,-0.1,
0.2,-0.2,0.3,-0.1,0.2,-0.2,0.1,-0.3,-0.1,-0.5,-0.8,-1.3,-1.7,-2.2,-2.7,-3.2,-3.7,-4.2,-4.6,-5,-4.4,-3.8,-3.1,-2.4,-1.7,-1,-0.5,0,0.4,0.1,0.5,
0.2,0.6,0.1,0.5,0,0.4,-0.1,0.3,-0.2,0.2,-0.3,0.1,0.5,0,0.4,-0.1,0.3,-0.2,0.2,-0.3,0.1,-0.4,0,-0.5,-0.1,-0.6,-0.2,-0.7,-0.3,-0.8,-0.4,-0.9,-0.5,-1,-0.6,-1.1,-0.7,-1.2,-0.8,-1.3,-0.9,-1.4,-1,-1.5,-1.1,-1.6,-1.2,-1.7,-1.3,-1.8,-1.4,-2,-1.6,-2.2];
const run2c = [0.2,0.6,0,0.4,0.8,0.2,0.5,-0.1,0.3,0.6,0.1,0.4,0.7,0.2,0.5,0.9,0.3,0.6,1,0.5,0.8,0.3,0.6,0.1,0.4,0.7,0.2,0.5,0,0.3,0.6,0.1,0.4,
0,0.4,0.1,0.5,0,0.3,-0.1,0.2,-0.2,-0.3,-0.6,-0.9,-1.2,-1.5,-1.9,-2.2,-2.5,-2.8,-3,-3.4,-2.9,-2.5,-2,-1.5,-1,-0.5,0,0.5,0.9,1.3,0.9,
1.2,0.8,1.1,0.6,1,0.5,0.9,0.4,0.8,0.3,0.7,0.2,0.6,1,0.4,0.8,0.2,0.6,0,0.4,0.8,0.2,0.6,0,0.4,-0.1,0.3,0.7,0.1,0.5,-0.1,0.3,-0.3,0.1,-0.4,0,-0.5,-0.1,-0.6,-0.2,0.2,-0.3,0.1,-0.4,0,-0.5,-0.1,-0.6,-0.2,-0.7,-0.3,-0.8,-0.4,-1];

const panelAverages = [avg40, avg30, avg20, avg15, avg10, avg8, avg6, avg4, avg2];
const panelRuns = [[run40a,run40b,run40c],[run30a,run30b,run30c],[run20a,run20b,run20c],[run15a,run15b,run15c],
  [run10a,run10b,run10c],[run8a,run8b,run8c],[run6a,run6b,run6c],[run4a,run4b,run4c],[run2a,run2b,run2c]];

// ---------- LAYOUT / STYLE ----------
const FONT = '"DejaVu Sans", "Liberation Sans", sans-serif';
const TEXT_COLOR = '#1c1c1c';
const PX_PER_NAM = 4.7;
const Y_MAX = 10;
const panelYMin = [-45, -45, -35, -30, -25, -20, -15, -15, -12];
const X_MIN = -335, X_MAX = 840;
const GRID_LEFT = 15, GRID_RIGHT = 56;
const CHART_W = 608;
const baselinesPx = [122, 413, 632, 788, 952, 1064, 1167, 1261, 1356];
const labelCentersPx = [77, 370, 585, 745, 908, 1020, 1134, 1227, 1325];
const runColors = ['#2c3832', '#404643', '#33413a'];
const avgColor = '#cf2b2b';
const axisLinePx = 1417;

const grids = [], xAxes = [], yAxes = [], series = [];
panelAverages.forEach((avg, i) => {
  grids.push({ left: GRID_LEFT, right: GRID_RIGHT, top: baselinesPx[i] - Y_MAX * PX_PER_NAM, height: (Y_MAX - panelYMin[i]) * PX_PER_NAM });
  xAxes.push({ gridIndex: i, type: 'value', min: X_MIN, max: X_MAX, show: false });
  yAxes.push({ gridIndex: i, type: 'value', min: panelYMin[i], max: Y_MAX, show: false });
  panelRuns[i].forEach((run, k) => {
    series.push({ type: 'line', xAxisIndex: i, yAxisIndex: i, silent: true, symbol: 'none', animation: false,
      data: timesRun.map((t, j) => [t, run[j]]),
      lineStyle: { color: runColors[k], width: 1.2 } });
  });
  series.push({ type: 'line', xAxisIndex: i, yAxisIndex: i, silent: true, symbol: 'none', animation: false,
    data: timesAvg.map((t, j) => [t, avg[j]]),
    lineStyle: { color: avgColor, width: 1.9 }, z: 3 });
});

// time axis grid
const ai = panelAverages.length;
grids.push({ left: GRID_LEFT, right: GRID_RIGHT, top: axisLinePx - 100, height: 100 });
xAxes.push({ gridIndex: ai, type: 'value', min: X_MIN, max: X_MAX, position: 'bottom',
  axisLine: { show: true, lineStyle: { color: '#3a3a3a', width: 1 } },
  axisTick: { show: true, inside: true, length: 5, customValues: xTickValues, lineStyle: { color: '#3a3a3a' } },
  axisLabel: { show: true, customValues: xTickValues, margin: 3, fontFamily: FONT, fontSize: 20, color: TEXT_COLOR },
  splitLine: { show: false },
  name: xAxisName, nameLocation: 'middle', nameGap: 24,
  nameTextStyle: { fontFamily: FONT, fontSize: 20, color: TEXT_COLOR } });
xAxes.push({ gridIndex: ai, type: 'value', min: X_MIN, max: X_MAX, position: 'bottom',
  axisLine: { show: false }, axisLabel: { show: false }, splitLine: { show: false },
  axisTick: { show: true, inside: true, length: 3, customValues: xMinorTickValues, lineStyle: { color: '#3a3a3a' } } });
yAxes.push({ gridIndex: ai, type: 'value', min: 0, max: 1, show: false });

// scale-bar grid: same time scale and same nAm scale as the top panel, extended to the right edge
const si = ai + 1;
const msPerPx = (X_MAX - X_MIN) / (CHART_W - GRID_LEFT - GRID_RIGHT);
grids.push({ left: GRID_LEFT, right: 0, top: baselinesPx[0] - Y_MAX * PX_PER_NAM, height: (Y_MAX - panelYMin[0]) * PX_PER_NAM });
xAxes.push({ gridIndex: si, type: 'value', min: X_MIN, max: X_MAX + GRID_RIGHT * msPerPx, show: false });
yAxes.push({ gridIndex: si, type: 'value', min: panelYMin[0], max: Y_MAX, show: false });
series.push({ type: 'line', xAxisIndex: si + 1, yAxisIndex: si, silent: true, symbol: 'none', animation: false,
  data: [[scaleBarTimes[0], scaleBarRange[1]], [scaleBarTimes[1], scaleBarRange[1]], [scaleBarTimes[1], scaleBarRange[0]], [scaleBarTimes[0], scaleBarRange[0]]],
  lineStyle: { color: '#555', width: 1.2 } });

const graphics = levelLabels.map((txt, i) => ({ type: 'text', x: 17, y: labelCentersPx[i], silent: true,
  style: { text: txt, font: '22px ' + FONT, fill: TEXT_COLOR, verticalAlign: 'middle', align: 'left' } }));
graphics.push({ type: 'text', x: 605, y: 25, silent: true,
  style: { text: chartTitle, font: '22px ' + FONT, fill: TEXT_COLOR, verticalAlign: 'middle', align: 'right' } });
graphics.push({ type: 'text', x: 593, y: 119, rotation: Math.PI / 2, silent: true,
  style: { text: scaleBarLabel, font: '20px ' + FONT, fill: TEXT_COLOR, verticalAlign: 'middle', align: 'center' } });

const chart = echarts.init(document.getElementById('c'), null, { renderer: 'canvas' });
chart.setOption({
  backgroundColor: '#ffffff',
  animation: false,
  grid: grids, xAxis: xAxes, yAxis: yAxes, series: series,
  graphic: graphics
});
</script></body></html>
